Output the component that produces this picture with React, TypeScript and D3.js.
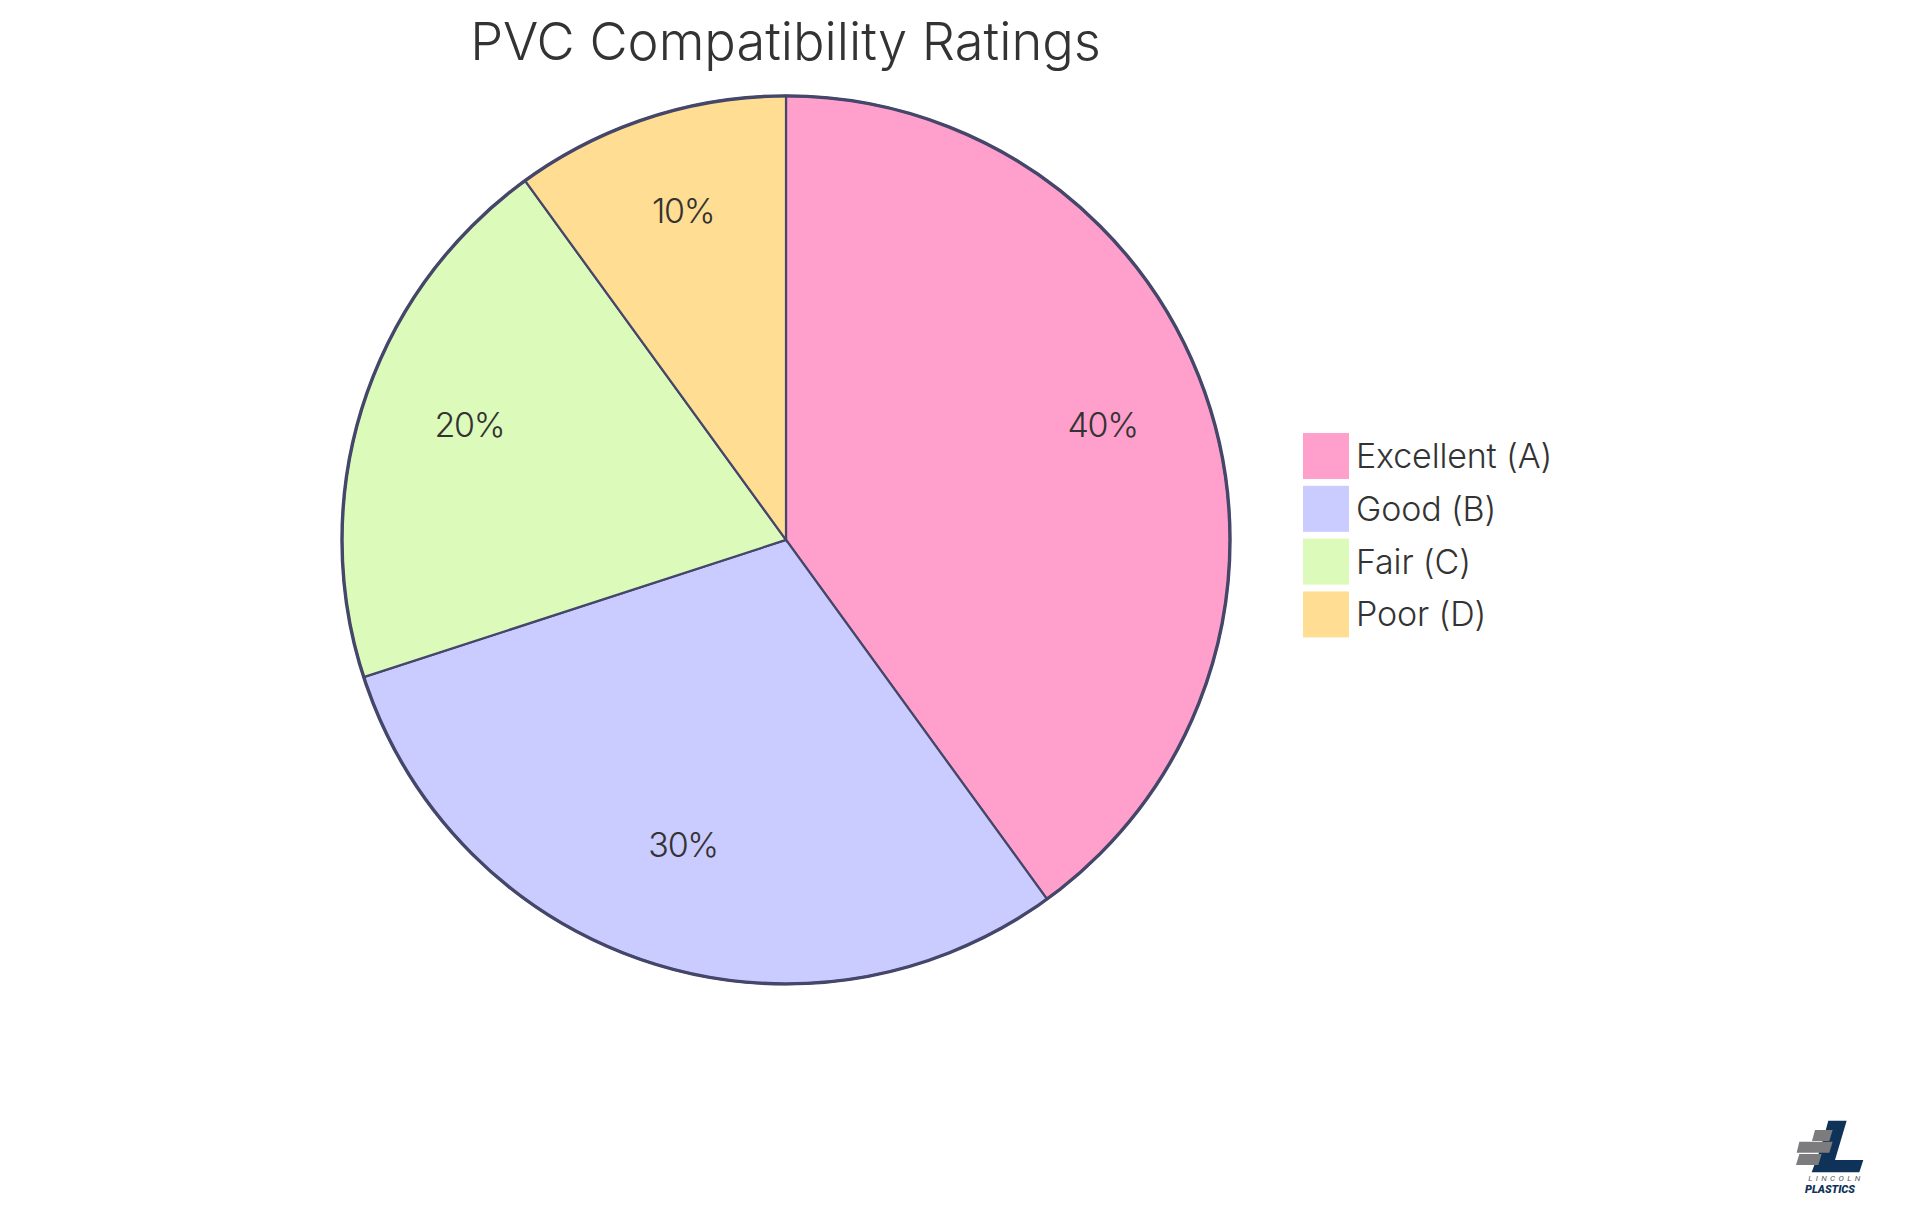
import React from "react";
import * as d3 from "d3";

const categories = ["Excellent (A)", "Good (B)", "Fair (C)", "Poor (D)"];
const seriesValues = [40, 30, 20, 10];
const sliceColors = ["#ff9fcb", "#cacbff", "#dcfaba", "#ffde93"];
const chartTitle = "PVC Compatibility Ratings";
const logoWordTop = "LINCOLN";
const logoWordBottom = "PLASTICS";

const W = 1920, H = 1215;
const cx = 786, cy = 539.9, R = 444;
const FONT = "Inter, 'Noto Sans', sans-serif";
const INK = "#333333";
const EDGE = "#44466a";

export default function App() {
  const pie = d3.pie<number>().sort(null).value((d) => d);
  const arcs = pie(seriesValues);
  const arc = d3.arc<d3.PieArcDatum<number>>().innerRadius(0).outerRadius(R);
  const labelArc = d3.arc<d3.PieArcDatum<number>>().innerRadius(R * 0.75).outerRadius(R * 0.75);
  const total = d3.sum(seriesValues);
  const legendY = d3.scaleBand<string>().domain(categories).range([432, 432 + 4 * 52.8]);

  return (
    <svg width={W} height={H} viewBox={`0 0 ${W} ${H}`}
      style={{ position: "absolute", left: 0, top: 0, background: "#fff" }}>
      <text x={785.5} y={59.5} textAnchor="middle" fontFamily={FONT} fontWeight={300} fontSize={52.4} fill={INK}>{chartTitle}</text>
      <g transform={`translate(${cx},${cy})`}>
        {arcs.map((a, i) => (
          <path key={i} d={arc(a) || ""} fill={sliceColors[i]} stroke={EDGE} strokeWidth={2.2} />
        ))}
        <circle r={R} fill="none" stroke={EDGE} strokeWidth={3.4} />
        {arcs.map((a, i) => {
          const [x, y] = labelArc.centroid(a);
          return (
            <text key={i} x={x} y={y} textAnchor="middle" fontFamily={FONT} fontWeight={300} fontSize={34} letterSpacing={-1.3} fill={INK}>
              {`${Math.round((a.value / total) * 100)}%`}
            </text>
          );
        })}
      </g>
      {categories.map((c, i) => {
        const y = legendY(c)!;
        return (
          <g key={c}>
            <rect x={1303} y={y + 1} width={46} height={46} fill={sliceColors[i]} />
            <text x={1356} y={y + 36} fontFamily={FONT} fontWeight={300} fontSize={34} letterSpacing={-0.15} fill={INK}>{c}</text>
          </g>
        );
      })}
      <g transform="translate(1750,1090) scale(0.3333)">
        <polygon points="235,92 290,92 255,210 340,210 328,247 185,247 212,175" fill="#0f3358" />
        <polygon points="195,120 248,120 238,153 186,153" fill="#7c7c7e" />
        <polygon points="148,155 248,155 238,188 140,188" fill="#7c7c7e" />
        <polygon points="148,192 215,192 205,225 138,225" fill="#7c7c7e" />
        <text x={175} y={273} fontFamily="Roboto, sans-serif" fontStyle="italic" fontSize={24} letterSpacing={10} fill="#555">{logoWordTop}</text>
        <text x={165} y={308} fontFamily="Roboto, sans-serif" fontStyle="italic" fontWeight={900} fontSize={33} fill="#0f3358" textLength={150}>{logoWordBottom}</text>
      </g>
    </svg>
  );
}
